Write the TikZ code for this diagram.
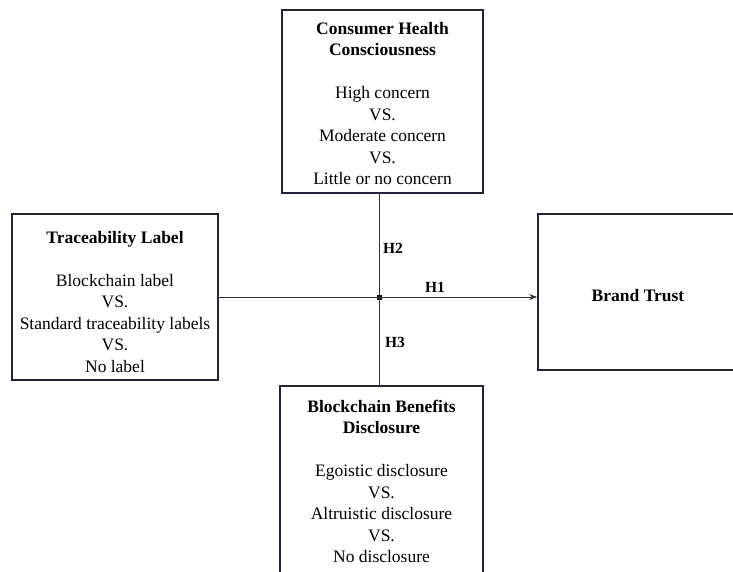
\documentclass[tikz,border=0pt]{standalone}
\usepackage{fontspec}
\setmainfont{Liberation Serif}
\usetikzlibrary{arrows.meta}
\begin{document}
\begin{tikzpicture}[x=1pt,y=-1pt,
  box/.style={draw=boxcol, line width=1.8pt, align=center, inner sep=0pt,
    font=\fontsize{17.5}{21.5}\selectfont},
  conn/.style={draw=conncol, line width=1pt},
  hlab/.style={font=\fontsize{15.5}{18}\selectfont\bfseries, inner sep=0pt}]
\definecolor{boxcol}{HTML}{23233A}
\definecolor{conncol}{HTML}{333333}
\clip (0,0) rectangle (733,571);
\fill[white] (0,0) rectangle (733,571);
% boxes
\node[box, minimum width=201pt, minimum height=183pt] (top) at (382.5,101.5)
  {\rule{0pt}{16pt}\textbf{Consumer Health}\\\textbf{Consciousness}\\[21.5pt]High concern\\VS.\\Moderate concern\\VS.\\Little or no concern};
\node[box, minimum width=206pt, minimum height=166pt] (left) at (115,297)
  {\rule{0pt}{22pt}\textbf{Traceability Label}\\[21pt]Blockchain label\\VS.\\Standard traceability labels\\VS.\\No label};
\node[box, minimum width=200pt, minimum height=156pt] (right) at (638,292)
  {\rule{0pt}{20pt}\textbf{Brand Trust}};
\node[box, minimum width=203pt, anchor=north, inner ysep=14pt] (bottom) at (381.5,385)
  {\textbf{Blockchain Benefits}\\\textbf{Disclosure}\\[21.5pt]Egoistic disclosure\\VS.\\Altruistic disclosure\\VS.\\No disclosure\\[20pt]};
% junction
\node[fill=black, minimum size=5pt, inner sep=0pt] (j) at (379,297) {};
% connectors
\draw[conn] (j.center |- top.south) -- (j.center |- bottom.north);
\draw[conn, -{Stealth[length=8pt,width=6pt]}] (left.east |- j.center) -- (right.west |- j.center);
% labels
\node[hlab] (h2) at (393,248) {H2};
\node[hlab] (h1) at (435,287) {H1};
\node[hlab] (h3) at (395,342) {H3};
\end{tikzpicture}
\end{document}
